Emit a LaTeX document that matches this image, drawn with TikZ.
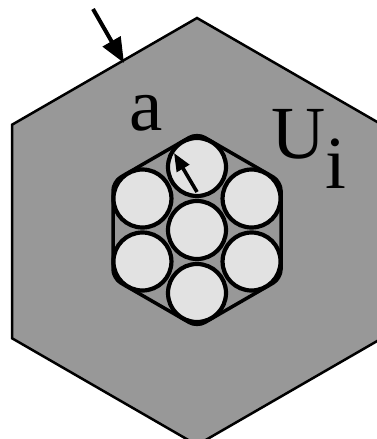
\documentclass[tikz,border=0pt]{standalone}
\usepackage{fontspec}
\setmainfont{Liberation Serif}
\usetikzlibrary{arrows.meta,calc}
\definecolor{hexgray}{RGB}{152,152,152}
\definecolor{discgray}{RGB}{226,226,226}
\begin{document}
\begin{tikzpicture}[x=1pt,y=-1pt,
  outerhex/.style={fill=hexgray,draw=black,line width=2.5pt,line join=miter},
  innerhex/.style={fill=hexgray,draw=black,line width=3.5pt,rounded corners=9pt},
  disc/.style={fill=discgray,draw=black,line width=4.2pt},
  bigarrow/.style={line width=4pt,-{Triangle[length=25pt,width=20pt]}},
  smallarrow/.style={line width=3.6pt,-{Triangle[length=18pt,width=14pt]}},
  lbl/.style={inner sep=0pt,font=\fontsize{75}{75}\selectfont}]
\useasboundingbox (0,0) rectangle (377,439);
\clip (0,0) rectangle (377,439);
\fill[white] (0,0) rectangle (377,439);
% outer hexagon
\draw[outerhex] (197,18) -- (382,124.75) -- (382,338.25) -- (197,445)
  -- (12,338.25) -- (12,124.75) -- cycle;
% inner hexagon
\coordinate (C) at (197,230);
\draw[innerhex] (197,133) -- (281,181.5) -- (281,278.5) -- (197,327)
  -- (113,278.5) -- (113,181.5) -- cycle;
% discs
\node[disc,circle,minimum size=58pt,inner sep=0pt] (d0) at (C) {};
\foreach \ang/\nm in {90/d1,30/d2,-30/d3,-90/d4,-150/d5,150/d6}
  \node[disc,circle,minimum size=58pt,inner sep=0pt] (\nm) at ($(C)+(\ang:63)$) {};
% arrows
\coordinate (t1) at (93,9);
\coordinate (h1) at (124,63);
\draw[bigarrow] (t1) -- (h1);
\coordinate (t2) at (197,192);
\coordinate (h2) at (174,153);
\draw[smallarrow] (t2) -- (h2);
% labels
\node[lbl,anchor=base] (a) at (146,130) {a};
\node[lbl,anchor=base west] (U) at (271,158) {U\raisebox{-30pt}{i}};
\end{tikzpicture}
\end{document}
